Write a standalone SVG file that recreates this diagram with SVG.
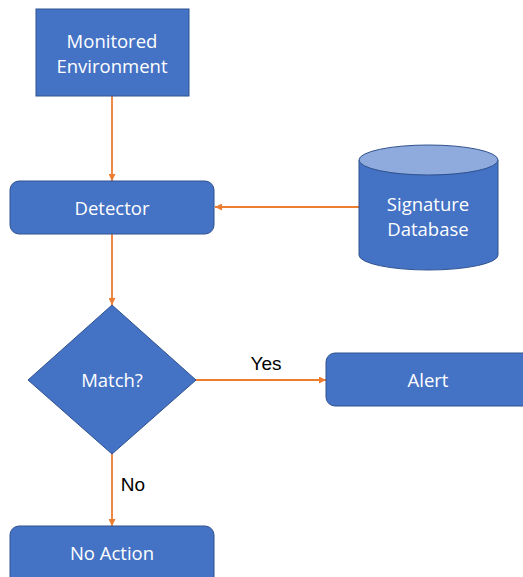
<svg xmlns="http://www.w3.org/2000/svg" width="523" height="577" viewBox="0 0 523 577">
<style>
.box{fill:#4472C4;stroke:#2F528F;stroke-width:1}
.t{font-family:"Open Sans","Liberation Sans",sans-serif;font-size:18.5px;fill:#ffffff;text-anchor:middle;dominant-baseline:central}
.lbl{font-family:"Liberation Sans",Arial,sans-serif;font-size:19px;fill:#000000;text-anchor:middle;dominant-baseline:central}
.c{stroke:#ED7D31;stroke-width:1.8;fill:none;marker-end:url(#ah)}
</style>
<defs>
<marker id="ah" viewBox="0 0 10 10" refX="10" refY="5" markerWidth="7" markerHeight="7" markerUnits="userSpaceOnUse" orient="auto">
<path d="M0,0 L10,5 L0,10 z" fill="#ED7D31"/>
</marker>
</defs>
<rect width="523" height="577" fill="#ffffff"/>
<g id="connectors">
<line class="c" x1="112" y1="96" x2="112" y2="181"/>
<line class="c" x1="359" y1="207" x2="215" y2="207"/>
<line class="c" x1="112" y1="234" x2="112" y2="305"/>
<line class="c" x1="196" y1="380" x2="326" y2="380"/>
<line class="c" x1="112" y1="453" x2="112" y2="526"/>
<text class="lbl" x="266" y="363">Yes</text>
<text class="lbl" x="133" y="484">No</text>
</g>
<g id="monitored">
<rect class="box" x="36" y="9" width="153" height="87"/>
<text class="t" x="112" y="40">Monitored</text>
<text class="t" x="112" y="65">Environment</text>
</g>
<g id="detector">
<rect class="box" x="10" y="181" width="204" height="53" rx="9"/>
<text class="t" x="112" y="207">Detector</text>
</g>
<g id="database">
<path class="box" d="M359,160 L359,255 A69.5,15 0 0 0 498,255 L498,160 Z"/>
<ellipse cx="428.5" cy="160" rx="69.5" ry="15" fill="#8FAADC" stroke="#2F528F" stroke-width="1"/>
<text class="t" x="428" y="203">Signature</text>
<text class="t" x="428" y="228">Database</text>
</g>
<g id="match">
<polygon class="box" points="112,305 196,380 112,454 28,380"/>
<text class="t" x="112" y="379">Match?</text>
</g>
<g id="alert">
<rect class="box" x="326" y="353" width="210" height="53" rx="9"/>
<text class="t" x="428" y="379">Alert</text>
</g>
<g id="noaction">
<rect class="box" x="10" y="526" width="204" height="60" rx="9"/>
<text class="t" x="112" y="552">No Action</text>
</g>
</svg>
